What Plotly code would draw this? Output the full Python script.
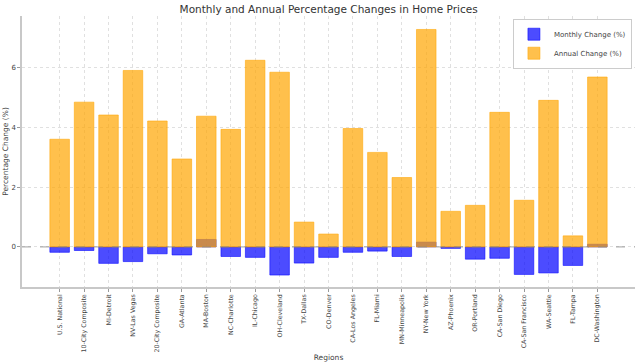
import plotly.graph_objects as go

regions = ["U.S. National", "10-City Composite", "MI-Detroit", "NV-Las Vegas",
           "20-City Composite", "GA-Atlanta", "MA-Boston", "NC-Charlotte",
           "IL-Chicago", "OH-Cleveland", "TX-Dallas", "CO-Denver",
           "CA-Los Angeles", "FL-Miami", "MN-Minneapolis", "NY-New York",
           "AZ-Phoenix", "OR-Portland", "CA-San Diego", "CA-San Francisco",
           "WA-Seattle", "FL-Tampa", "DC-Washington"]

monthly_change = [-0.18, -0.12, -0.55, -0.49, -0.23, -0.27, 0.25, -0.32,
                  -0.35, -0.94, -0.54, -0.35, -0.18, -0.14, -0.32, 0.16,
                  -0.05, -0.41, -0.38, -0.92, -0.87, -0.62, 0.09]

annual_change = [3.60, 4.84, 4.41, 5.90, 4.21, 2.94, 4.37, 3.93,
                 6.24, 5.84, 0.83, 0.43, 3.96, 3.16, 2.32, 7.27,
                 1.19, 1.39, 4.50, 1.56, 4.90, 0.37, 5.68]

y_ticks = [0, 2, 4, 6]

FONT = "DejaVu Sans"
TXT = "#444444"

fig = go.Figure()
fig.add_trace(go.Bar(
    x=regions, y=monthly_change, name="Monthly Change (%)", width=0.8,
    marker=dict(color="rgba(0,0,255,0.7)",
                line=dict(color="rgba(0,0,255,0.7)", width=0.8)),
))
fig.add_trace(go.Bar(
    x=regions, y=annual_change, name="Annual Change (%)", width=0.8,
    marker=dict(color="rgba(255,165,0,0.7)",
                line=dict(color="rgba(255,165,0,0.7)", width=0.8)),
))

fig.add_hline(y=0, line=dict(color="#888888", width=0.8, dash="dash"), layer="above")

fig.update_layout(
    width=640, height=364,
    barmode="overlay",
    plot_bgcolor="white", paper_bgcolor="white",
    margin=dict(l=22, r=5, t=16, b=77, autoexpand=False),
    font=dict(family=FONT, color=TXT, size=7),
    title=dict(text="Monthly and Annual Percentage Changes in Home Prices",
               x=0.5135, xanchor="center", yref="container", y=0.985, yanchor="top",
               font=dict(family=FONT, size=10.5, color="#333333")),
    legend=dict(x=0.995, y=0.99, xanchor="right", yanchor="top",
                bgcolor="white", bordercolor="#cccccc", borderwidth=1,
                font=dict(family=FONT, size=7, color=TXT),
                itemwidth=30, tracegroupgap=0),
    showlegend=True,
)

fig.update_xaxes(
    type="category", range=[-1.54, 23.54], automargin=False,
    tickangle=-90, tickfont=dict(size=6.3, color=TXT),
    showline=True, linecolor="#c8c8c8", linewidth=1.5, mirror=False,
    ticks="outside", ticklen=3, tickcolor="#999999", tickwidth=0.8,
    showgrid=True, gridcolor="#e0e0e0", gridwidth=0.8, griddash="dot",
    title=dict(text="Regions", font=dict(size=7.5, color=TXT), standoff=3),
)
fig.update_yaxes(
    range=[-1.34, 7.72], tickvals=y_ticks, automargin=False,
    tickfont=dict(size=7, color=TXT),
    showline=True, linecolor="#c8c8c8", linewidth=1.5, mirror=False,
    ticks="outside", ticklen=3, tickcolor="#999999", tickwidth=0.8,
    showgrid=True, gridcolor="#e0e0e0", gridwidth=0.8, griddash="dot",
    zeroline=False,
    title=dict(text="Percentage Change (%)", font=dict(size=7.5, color=TXT), standoff=2),
)

fig.write_html("out.html",
               config={"displayModeBar": False},
               post_script="document.body.style.margin='0';document.body.style.padding='0';")
